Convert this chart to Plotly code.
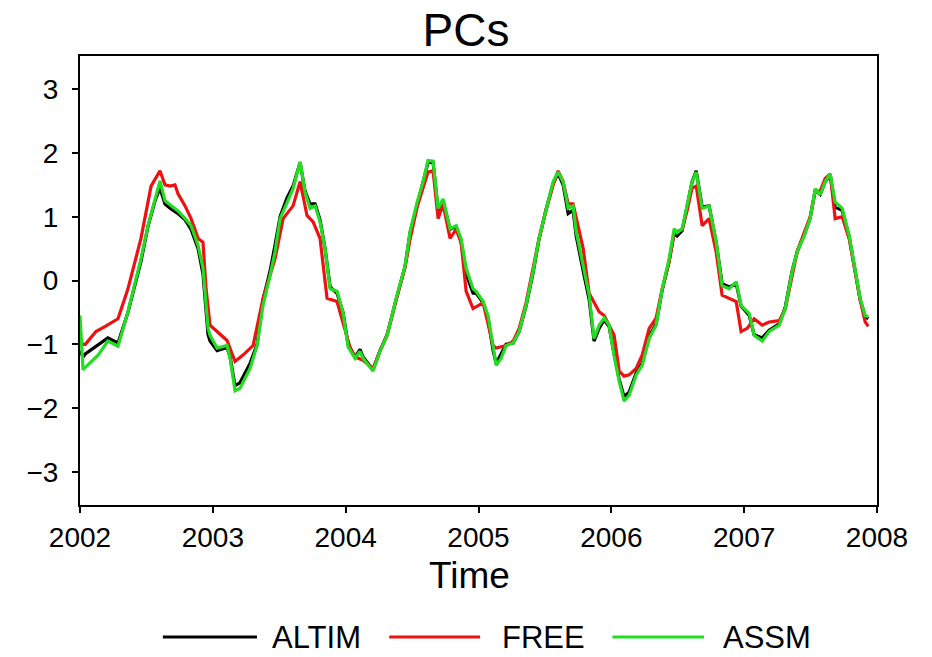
import numpy as np
import plotly.graph_objects as go

BASE_YEAR = 2002

# ---- ALTIM (black) ----
altim_t = [0.000, 0.023, 0.040, 0.136, 0.210, 0.286, 0.361, 0.459, 0.512, 0.565, 0.602, 0.640, 0.685, 0.738,
           0.791, 0.836, 0.889, 0.926, 0.964, 0.979, 1.032, 1.107, 1.130, 1.167, 1.205, 1.280, 1.333, 1.378,
           1.431, 1.468, 1.506, 1.559, 1.604, 1.657, 1.694, 1.732, 1.770, 1.807, 1.845, 1.883, 1.935, 1.980,
           2.018, 2.071, 2.108, 2.131, 2.206, 2.259, 2.312, 2.380, 2.447, 2.485, 2.538, 2.583, 2.620, 2.658,
           2.696, 2.733, 2.786, 2.831, 2.869, 2.907, 2.959, 2.982, 3.035, 3.072, 3.110, 3.133, 3.170, 3.208,
           3.261, 3.306, 3.358, 3.411, 3.456, 3.509, 3.562, 3.599, 3.637, 3.675, 3.712, 3.735, 3.788, 3.833,
           3.870, 3.908, 3.946, 3.983, 4.021, 4.059, 4.096, 4.134, 4.187, 4.232, 4.285, 4.337, 4.383, 4.435,
           4.473, 4.495, 4.533, 4.571, 4.608, 4.639, 4.684, 4.736, 4.789, 4.834, 4.887, 4.940, 4.977, 5.038,
           5.075, 5.136, 5.188, 5.264, 5.309, 5.361, 5.399, 5.452, 5.497, 5.535, 5.572, 5.610, 5.648, 5.685,
           5.738, 5.791, 5.836, 5.873, 5.911, 5.934]
altim_v = [-1.10, -1.20, -1.15, -1.00, -0.90, -0.98, -0.50, 0.30, 0.85, 1.25, 1.45, 1.20, 1.12, 1.05,
           0.95, 0.80, 0.50, 0.10, -0.85, -0.95, -1.10, -1.05, -1.20, -1.65, -1.60, -1.30, -1.00, -0.30,
           0.15, 0.55, 1.00, 1.30, 1.48, 1.85, 1.40, 1.20, 1.20, 0.95, 0.50, -0.10, -0.20, -0.50,
           -1.00, -1.20, -1.08, -1.20, -1.40, -1.10, -0.85, -0.30, 0.22, 0.75, 1.20, 1.55, 1.85, 1.85,
           1.10, 1.25, 0.80, 0.85, 0.60, 0.10, -0.20, -0.20, -0.35, -0.60, -1.10, -1.30, -1.15, -1.00,
           -0.98, -0.80, -0.40, 0.12, 0.65, 1.12, 1.52, 1.68, 1.50, 1.05, 1.10, 0.70, 0.15, -0.30,
           -0.95, -0.75, -0.62, -0.72, -1.15, -1.55, -1.82, -1.75, -1.45, -1.30, -0.88, -0.68, -0.15, 0.30,
           0.75, 0.70, 0.78, 1.15, 1.55, 1.72, 1.15, 1.17, 0.60, -0.05, -0.10, -0.05, -0.40, -0.55,
           -0.85, -0.90, -0.78, -0.68, -0.42, 0.15, 0.45, 0.72, 0.98, 1.42, 1.35, 1.55, 1.65, 1.15,
           1.10, 0.68, 0.12, -0.30, -0.57, -0.60]

# ---- FREE (red) ----
free_t = [0.000, 0.023, 0.040, 0.120, 0.190, 0.286, 0.361, 0.459, 0.535, 0.602, 0.640, 0.678, 0.715, 0.738,
          0.791, 0.836, 0.889, 0.926, 0.949, 0.979, 1.032, 1.107, 1.167, 1.227, 1.303, 1.378, 1.468, 1.529,
          1.604, 1.657, 1.709, 1.755, 1.807, 1.860, 1.935, 1.980, 2.033, 2.071, 2.131, 2.206, 2.259, 2.312,
          2.380, 2.447, 2.485, 2.538, 2.583, 2.620, 2.658, 2.696, 2.733, 2.786, 2.831, 2.869, 2.907, 2.959,
          3.035, 3.110, 3.133, 3.208, 3.261, 3.306, 3.358, 3.411, 3.456, 3.509, 3.562, 3.599, 3.637, 3.675,
          3.712, 3.788, 3.833, 3.908, 3.946, 4.021, 4.059, 4.096, 4.134, 4.187, 4.232, 4.285, 4.337, 4.383,
          4.435, 4.473, 4.533, 4.571, 4.608, 4.639, 4.684, 4.736, 4.789, 4.834, 4.887, 4.940, 4.977, 5.023,
          5.075, 5.136, 5.188, 5.264, 5.309, 5.361, 5.399, 5.452, 5.497, 5.535, 5.572, 5.610, 5.648, 5.685,
          5.738, 5.791, 5.836, 5.873, 5.911, 5.934]
free_v = [-0.95, -1.00, -1.00, -0.80, -0.72, -0.60, -0.13, 0.66, 1.48, 1.72, 1.50, 1.48, 1.50, 1.36,
          1.17, 0.97, 0.66, 0.60, -0.13, -0.70, -0.80, -0.94, -1.27, -1.17, -1.02, -0.28, 0.34, 0.97,
          1.17, 1.55, 1.02, 0.92, 0.66, -0.28, -0.33, -0.65, -1.05, -1.20, -1.25, -1.38, -1.10, -0.86,
          -0.30, 0.20, 0.65, 1.15, 1.45, 1.70, 1.72, 0.97, 1.20, 0.66, 0.80, 0.60, -0.17, -0.44,
          -0.35, -1.02, -1.06, -1.02, -0.95, -0.75, -0.35, 0.20, 0.66, 1.10, 1.50, 1.72, 1.55, 1.20,
          1.20, 0.50, -0.20, -0.49, -0.55, -0.86, -1.42, -1.50, -1.48, -1.38, -1.17, -0.75, -0.59, -0.13,
          0.30, 0.75, 0.80, 1.10, 1.45, 1.48, 0.86, 0.97, 0.45, -0.23, -0.28, -0.33, -0.80, -0.75,
          -0.60, -0.70, -0.65, -0.63, -0.45, 0.10, 0.45, 0.75, 1.00, 1.40, 1.40, 1.60, 1.67, 0.97,
          1.00, 0.65, 0.10, -0.30, -0.65, -0.72]

# ---- ASSM (green) ----
assm_t = [0.000, 0.023, 0.040, 0.136, 0.210, 0.286, 0.361, 0.459, 0.512, 0.565, 0.602, 0.640, 0.685, 0.738,
          0.791, 0.836, 0.889, 0.926, 0.964, 0.979, 1.032, 1.107, 1.130, 1.167, 1.205, 1.280, 1.333, 1.378,
          1.431, 1.468, 1.506, 1.559, 1.604, 1.657, 1.694, 1.732, 1.770, 1.807, 1.845, 1.883, 1.935, 1.980,
          2.018, 2.071, 2.108, 2.131, 2.206, 2.259, 2.312, 2.380, 2.447, 2.485, 2.538, 2.583, 2.620, 2.658,
          2.696, 2.733, 2.786, 2.831, 2.869, 2.907, 2.959, 2.982, 3.035, 3.072, 3.110, 3.133, 3.170, 3.208,
          3.261, 3.306, 3.358, 3.411, 3.456, 3.509, 3.562, 3.599, 3.637, 3.675, 3.712, 3.735, 3.788, 3.833,
          3.870, 3.908, 3.946, 3.983, 4.021, 4.059, 4.096, 4.134, 4.187, 4.232, 4.285, 4.337, 4.383, 4.435,
          4.473, 4.495, 4.533, 4.571, 4.608, 4.639, 4.684, 4.736, 4.789, 4.834, 4.887, 4.940, 4.977, 5.038,
          5.075, 5.136, 5.188, 5.264, 5.309, 5.361, 5.399, 5.452, 5.497, 5.535, 5.572, 5.610, 5.648, 5.685,
          5.738, 5.791, 5.836, 5.873, 5.911, 5.934]
assm_v = [-0.55, -1.40, -1.36, -1.17, -0.95, -1.03, -0.49, 0.34, 0.86, 1.28, 1.56, 1.25, 1.17, 1.09,
          0.97, 0.86, 0.55, 0.19, -0.75, -0.86, -1.06, -1.02, -1.22, -1.73, -1.69, -1.38, -1.02, -0.39,
          0.08, 0.45, 0.97, 1.23, 1.44, 1.86, 1.39, 1.13, 1.17, 0.92, 0.50, -0.13, -0.17, -0.50,
          -1.04, -1.22, -1.11, -1.22, -1.42, -1.11, -0.86, -0.28, 0.23, 0.77, 1.23, 1.55, 1.88, 1.87,
          1.13, 1.28, 0.81, 0.86, 0.66, 0.19, -0.13, -0.17, -0.33, -0.55, -1.06, -1.33, -1.22, -1.02,
          -0.98, -0.80, -0.39, 0.14, 0.66, 1.13, 1.55, 1.70, 1.55, 1.13, 1.17, 0.77, 0.23, -0.23,
          -0.91, -0.70, -0.59, -0.70, -1.18, -1.58, -1.89, -1.80, -1.48, -1.33, -0.91, -0.70, -0.13, 0.34,
          0.81, 0.75, 0.81, 1.17, 1.55, 1.70, 1.13, 1.17, 0.61, -0.08, -0.13, -0.02, -0.39, -0.52,
          -0.86, -0.95, -0.80, -0.70, -0.44, 0.14, 0.45, 0.70, 0.97, 1.44, 1.34, 1.55, 1.67, 1.23,
          1.13, 0.70, 0.14, -0.28, -0.55, -0.57]

x_ticks = [2002, 2003, 2004, 2005, 2006, 2007, 2008]
y_ticks = [-3, -2, -1, 0, 1, 2, 3]

series = [
    ("ALTIM", altim_t, altim_v, "#000000"),
    ("FREE", free_t, free_v, "#ee1111"),
    ("ASSM", assm_t, assm_v, "#22dd22"),
]

FONT = "Liberation Sans, Arial, sans-serif"

fig = go.Figure()
for name, t, v, col in series:
    fig.add_trace(go.Scatter(
        x=BASE_YEAR + np.array(t), y=v, mode="lines", name=name,
        line=dict(color=col, width=3.2), showlegend=False,
    ))

# manual legend (long line samples as in the original), paper coordinates
legend_pos = [  # (line x0, line x1, text x)
    (0.104, 0.222, 0.238),
    (0.388, 0.502, 0.527),
    (0.668, 0.783, 0.804),
]
leg_y = -0.294
for (name, _, _, col), (x0, x1, xt) in zip(series, legend_pos):
    fig.add_shape(type="line", xref="paper", yref="paper", x0=x0, x1=x1, y0=leg_y, y1=leg_y,
                  line=dict(color=col, width=3))
    fig.add_annotation(text=name, xref="paper", yref="paper", x=xt, y=leg_y,
                       xanchor="left", yanchor="middle", showarrow=False,
                       font=dict(family=FONT, size=31, color="#000"))

# x-axis title
fig.add_annotation(text="Time", xref="paper", yref="paper", x=0.489, y=-0.156,
                   xanchor="center", yanchor="middle", showarrow=False,
                   font=dict(family=FONT, size=37, color="#000"))

axis_font = dict(family=FONT, size=28, color="#000")
fig.update_layout(
    width=932, height=657,
    margin=dict(l=80, r=55, t=56, b=152),
    paper_bgcolor="white", plot_bgcolor="white",
    title=dict(text="PCs", x=0.5, xanchor="center", y=0.955, yanchor="middle",
               font=dict(family=FONT, size=46, color="#000")),
    showlegend=False,
)
fig.update_xaxes(
    range=[2002, 2008], tickvals=x_ticks, ticktext=[str(v) for v in x_ticks],
    showgrid=False, zeroline=False, showline=True, linecolor="#000", linewidth=2, mirror=True,
    ticks="outside", ticklen=6, tickwidth=2, tickcolor="#000", tickfont=axis_font,
    automargin=False,
)
fig.update_yaxes(
    range=[-3.52, 3.52], tickvals=y_ticks,
    showgrid=False, zeroline=False, showline=True, linecolor="#000", linewidth=2, mirror=True,
    ticks="outside", ticklen=6, tickwidth=2, tickcolor="#000", tickfont=axis_font,
    ticklabelstandoff=8, automargin=False,
)

fig.write_html("out.html", config={"displayModeBar": False},
               post_script="document.body.style.margin='0';")
